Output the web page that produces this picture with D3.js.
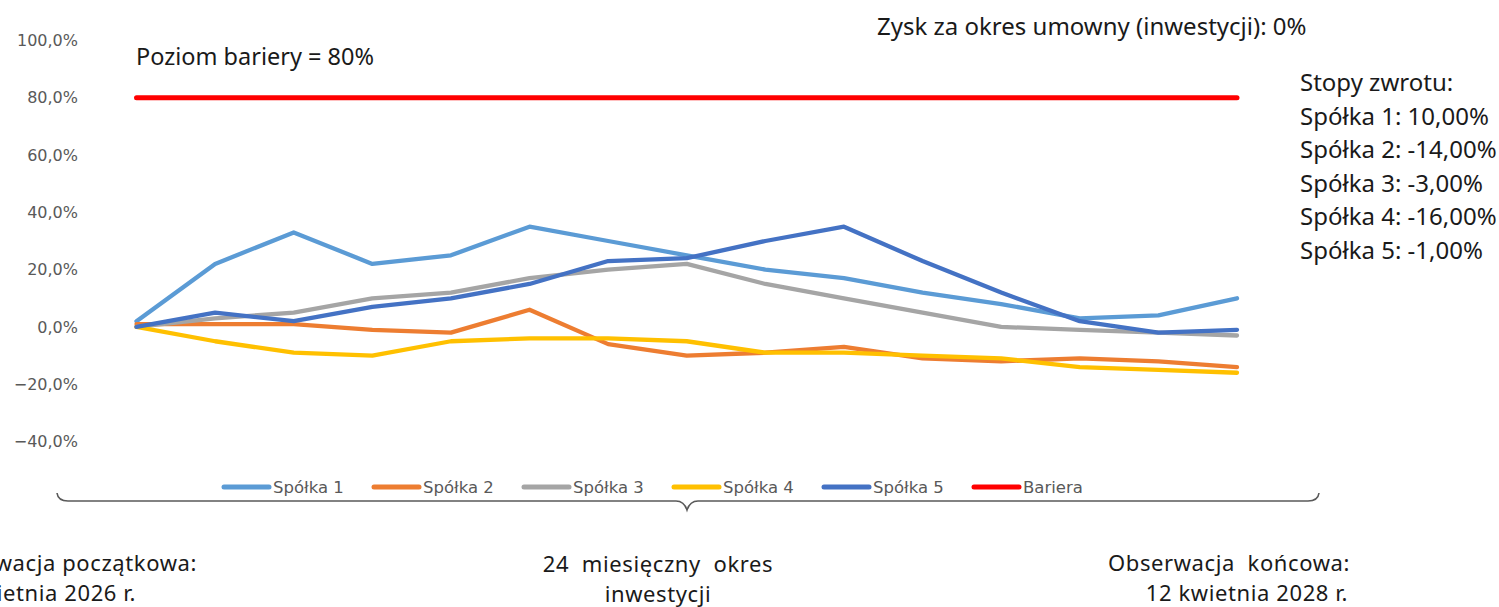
<!DOCTYPE html>
<html>
<head>
<meta charset="utf-8">
<script src="https://cdn.jsdelivr.net/npm/d3@7"></script>
<style>
  html, body { margin: 0; padding: 0; background: #ffffff; }
  svg { display: block; }
</style>
</head>
<body>
<svg id="chart" width="1499" height="607"></svg>
<script>
// ---- data ----
const observations = [1, 2, 3, 4, 5, 6, 7, 8, 9, 10, 11, 12, 13, 14, 15];
const spolka1 = [2, 22, 33, 22, 25, 35, 30, 25, 20, 17, 12, 8, 3, 4, 10];
const spolka2 = [1, 1, 1, -1, -2, 6, -6, -10, -9, -7, -11, -12, -11, -12, -14];
const spolka3 = [0, 3, 5, 10, 12, 17, 20, 22, 15, 10, 5, 0, -1, -2, -3];
const spolka4 = [0, -5, -9, -10, -5, -4, -4, -5, -9, -9, -10, -11, -14, -15, -16];
const spolka5 = [0, 5, 2, 7, 10, 15, 23, 24, 30, 35, 23, 12, 2, -2, -1];
const bariera = [80, 80, 80, 80, 80, 80, 80, 80, 80, 80, 80, 80, 80, 80, 80];
const seriesNames = ["Spółka 1", "Spółka 2", "Spółka 3", "Spółka 4", "Spółka 5", "Bariera"];
const yTicks = [-40, -20, 0, 20, 40, 60, 80, 100];

const titleBarrier = "Poziom bariery = 80%";
const titleProfit = "Zysk za okres umowny (inwestycji): 0%";
const returnsLines = ["Stopy zwrotu:", "Spółka 1: 10,00%", "Spółka 2: -14,00%", "Spółka 3: -3,00%", "Spółka 4: -16,00%", "Spółka 5: -1,00%"];
const startLabel = ["Obserwacja początkowa:", "12 kwietnia 2026 r."];
const midLabel = ["24  miesięczny  okres", "inwestycji"];
const endLabel = ["Obserwacja  końcowa:", "12 kwietnia 2028 r."];

// ---- styling ----
const colors = ["#5B9BD5", "#ED7D31", "#A5A5A5", "#FFC000", "#4472C4", "#FF0000"];
const axisFont = "'DejaVu Sans', sans-serif";
const textFont = "'Noto Sans', sans-serif";

const svg = d3.select("#chart");

const x = d3.scalePoint().domain(observations).range([136.5, 1237]);
const y = d3.scaleLinear().domain([-40, 100]).range([441.5, 40.5]);

const locale = d3.formatLocale({ decimal: ",", thousands: " ", grouping: [3], currency: ["", " zł"] });
const fmt = locale.format(".1f");

// y axis
const yAxis = d3.axisLeft(y).tickValues(yTicks).tickSize(0).tickPadding(0)
  .tickFormat(d => fmt(d) + "%");
const gy = svg.append("g").attr("transform", "translate(78,0)").call(yAxis);
gy.select(".domain").remove();
gy.selectAll("text")
  .attr("fill", "#595959")
  .style("font-family", axisFont)
  .style("font-size", "16px");

// lines
const allSeries = [spolka1, spolka2, spolka3, spolka4, spolka5, bariera];
const line = d3.line().x((d, i) => x(observations[i])).y(d => y(d));
svg.append("g").selectAll("path")
  .data(allSeries)
  .join("path")
  .attr("d", d => line(d))
  .attr("fill", "none")
  .attr("stroke", (d, i) => colors[i])
  .attr("stroke-width", (d, i) => i === 5 ? 5 : 4.3)
  .attr("stroke-linecap", "round")
  .attr("stroke-linejoin", "round");

// legend
const legend = svg.append("g").attr("transform", "translate(222,487)");
const items = legend.selectAll("g").data(seriesNames).join("g")
  .attr("transform", (d, i) => `translate(${i * 150},0)`);
items.append("line")
  .attr("x1", 2).attr("x2", 47).attr("y1", 0).attr("y2", 0)
  .attr("stroke", (d, i) => colors[i])
  .attr("stroke-width", 5)
  .attr("stroke-linecap", "round");
items.append("text")
  .attr("x", 51).attr("y", 0).attr("dy", "0.35em")
  .attr("fill", "#595959")
  .style("font-family", axisFont)
  .style("font-size", "16.5px")
  .text(d => d);

// brace
const brace = d3.path();
brace.moveTo(57, 493);
brace.quadraticCurveTo(58, 501, 68, 501);
brace.lineTo(676, 501);
brace.quadraticCurveTo(684, 501, 687, 510);
brace.quadraticCurveTo(690, 501, 698, 501);
brace.lineTo(1308, 501);
brace.quadraticCurveTo(1318, 501, 1319, 493);
svg.append("path").attr("d", brace.toString())
  .attr("fill", "none").attr("stroke", "#595959").attr("stroke-width", 1.6);

// annotation texts
function addText(str, xPos, yPos, anchor, size, spacing) {
  svg.append("text")
    .attr("x", xPos).attr("y", yPos)
    .attr("text-anchor", anchor)
    .attr("fill", "#1a1a1a")
    .style("font-family", textFont)
    .style("font-size", size + "px")
    .style("letter-spacing", (spacing || 0) + "px")
    .style("white-space", "pre")
    .text(str);
}
addText(titleBarrier, 136, 65, "start", 23.5);
addText(titleProfit, 877, 35, "start", 24);
returnsLines.forEach((t, i) => addText(t, 1300, 91 + i * 33.5, "start", 24));
addText(startLabel[0], 197, 571, "end", 22, 0.6);
addText(startLabel[1], 136, 601, "end", 22, 0.6);
addText(midLabel[0], 658, 572, "middle", 22, 0.6);
addText(midLabel[1], 658, 602, "middle", 22, 0.6);
addText(endLabel[0], 1350, 571, "end", 22, 0.6);
addText(endLabel[1], 1348, 601, "end", 22, 0.6);
</script>
</body>
</html>
